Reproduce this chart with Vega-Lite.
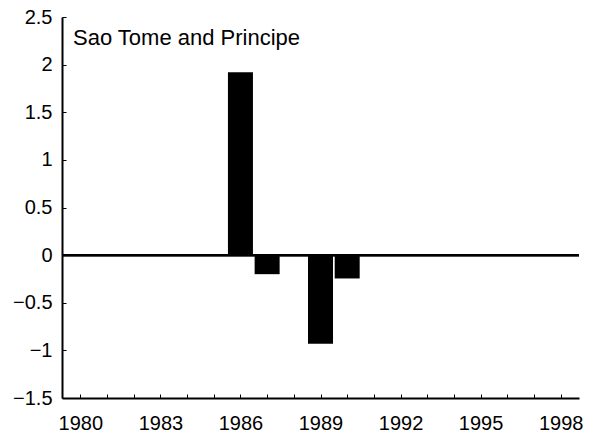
{
  "$schema": "https://vega.github.io/schema/vega-lite/v6.json",
  "width": 517,
  "height": 381,
  "autosize": "none",
  "padding": {"left": 62, "top": 17, "right": 15, "bottom": 38},
  "background": "white",
  "config": {
    "view": {"stroke": null},
    "font": "Liberation Sans"
  },
  "title": {
    "text": "Sao Tome and Principe",
    "anchor": "start",
    "frame": "group",
    "orient": "top",
    "baseline": "alphabetic",
    "offset": -60,
    "dx": 11,
    "fontSize": 22,
    "fontWeight": "normal",
    "color": "black"
  },
  "data": {
    "values": [
      {"year": 1986, "value": 1.92},
      {"year": 1987, "value": -0.2},
      {"year": 1989, "value": -0.93},
      {"year": 1990, "value": -0.245}
    ]
  },
  "layer": [
    {
      "mark": {"type": "bar", "width": 25, "color": "black"},
      "encoding": {
        "x": {
          "field": "year",
          "type": "quantitative",
          "scale": {"domain": [1979.5, 1998.5], "nice": false, "zero": false},
          "axis": {
            "title": null,
            "values": [1980, 1981, 1982, 1983, 1984, 1985, 1986, 1987, 1988, 1989, 1990, 1991, 1992, 1993, 1994, 1995, 1996, 1997, 1998],
            "labelExpr": "datum.value % 3 == 0 ? datum.label : ''",
            "format": "d",
            "grid": false,
            "domainColor": "black",
            "domainWidth": 2,
            "tickColor": "black",
            "tickSize": -4,
            "labelPadding": 19,
            "labelFontSize": 20,
            "labelColor": "black",
            "labelFlush": false,
            "labelOverlap": false
          }
        },
        "y": {
          "field": "value",
          "type": "quantitative",
          "scale": {"domain": [-1.5, 2.5], "nice": false, "zero": false},
          "axis": {
            "title": null,
            "values": [-1.5, -1, -0.5, 0, 0.5, 1, 1.5, 2, 2.5],
            "format": "~g",
            "grid": false,
            "domainColor": "black",
            "domainWidth": 2,
            "tickColor": "black",
            "tickSize": -4,
            "labelPadding": 14,
            "labelFontSize": 20,
            "labelColor": "black",
            "labelFlush": false,
            "labelOverlap": false
          }
        }
      }
    },
    {
      "mark": {"type": "rule", "color": "black", "strokeWidth": 2},
      "encoding": {"y": {"datum": 0}}
    }
  ]
}
